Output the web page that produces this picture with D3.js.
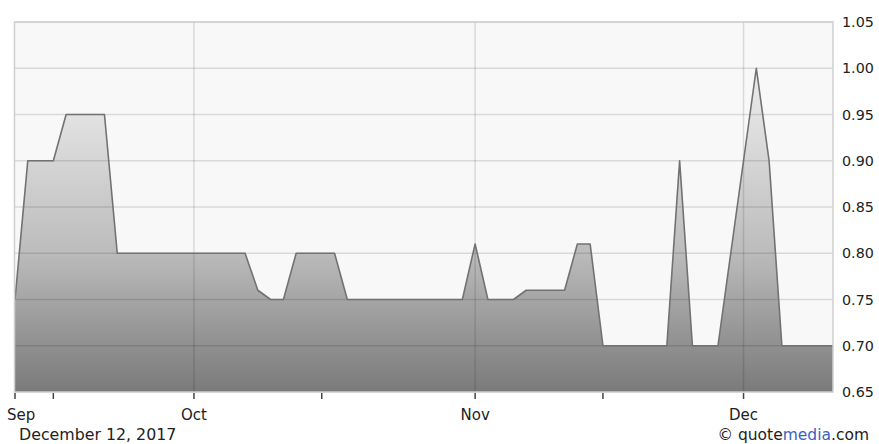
<!DOCTYPE html>
<html>
<head>
<meta charset="utf-8">
<script src="https://cdn.jsdelivr.net/npm/d3@7"></script>
<style>
html,body{margin:0;padding:0;background:#fff;}
svg{display:block;}
text{font-family:"DejaVu Sans",Verdana,sans-serif;}
</style>
</head>
<body>
<svg id="chart" width="879" height="444"></svg>
<script>
// Trading days (Sep 12 – Dec 12, 2017)
const dates = [
 "2017-09-12","2017-09-13","2017-09-14","2017-09-15","2017-09-18","2017-09-19","2017-09-20","2017-09-21","2017-09-22","2017-09-25","2017-09-26","2017-09-27","2017-09-28","2017-09-29",
 "2017-10-02","2017-10-03","2017-10-04","2017-10-05","2017-10-06","2017-10-09","2017-10-10","2017-10-11","2017-10-12","2017-10-13","2017-10-16","2017-10-17","2017-10-18","2017-10-19","2017-10-20","2017-10-23","2017-10-24","2017-10-25","2017-10-26","2017-10-27","2017-10-30","2017-10-31",
 "2017-11-01","2017-11-02","2017-11-03","2017-11-06","2017-11-07","2017-11-08","2017-11-09","2017-11-10","2017-11-13","2017-11-14","2017-11-15","2017-11-16","2017-11-17","2017-11-20","2017-11-21","2017-11-22","2017-11-24","2017-11-27","2017-11-28","2017-11-29","2017-11-30",
 "2017-12-01","2017-12-04","2017-12-05","2017-12-06","2017-12-07","2017-12-08","2017-12-11","2017-12-12"
];
const prices = [
 0.75,0.90,0.90,0.90,0.95,0.95,0.95,0.95,0.80,0.80,0.80,0.80,0.80,0.80,
 0.80,0.80,0.80,0.80,0.80,0.76,0.75,0.75,0.80,0.80,0.80,0.80,0.75,0.75,0.75,0.75,0.75,0.75,0.75,0.75,0.75,0.75,
 0.81,0.75,0.75,0.75,0.76,0.76,0.76,0.76,0.81,0.81,0.70,0.70,0.70,0.70,0.70,0.70,0.90,0.70,0.70,0.70,0.80,
 0.90,1.00,0.90,0.70,0.70,0.70,0.70,0.70
];
const yTicks = [0.65,0.70,0.75,0.80,0.85,0.90,0.95,1.00,1.05];
const monthLabels = ["Sep","Oct","Nov","Dec"];
const monthDates = ["2017-09-12","2017-10-02","2017-11-01","2017-12-01"];
const minorDates = ["2017-09-15","2017-10-16","2017-11-15"];
const dateLabel = "December 12, 2017";

const svg = d3.select("#chart");
const L = 15, R = 833, T = 22, B = 392;
const x = d3.scaleLinear().domain([0, dates.length - 1]).range([L, R]);
const y = d3.scaleLinear().domain([0.65, 1.05]).range([B, T]);
const idx = d => dates.indexOf(d);

// gradient
const defs = svg.append("defs");
const g = defs.append("linearGradient").attr("id","fillGrad")
  .attr("gradientUnits","userSpaceOnUse").attr("x1",0).attr("x2",0).attr("y1",T).attr("y2",B);
[[0,"#f2f2f2"],[0.25,"#e2e2e2"],[0.62,"#bcbcbc"],[1,"#7a7a7a"]].forEach(s =>
  g.append("stop").attr("offset", s[0]).attr("stop-color", s[1]));

// plot background
svg.append("rect").attr("x",L).attr("y",T).attr("width",R-L).attr("height",B-T).attr("fill","#f8f8f8");

// area
const data = prices.map((v,i) => ({i, v}));
svg.append("path").datum(data)
  .attr("d", d3.area().x(d => x(d.i)).y0(B).y1(d => y(d.v)))
  .attr("fill","url(#fillGrad)");

// grid on top (semi-transparent)
svg.append("g").selectAll("line").data(yTicks).join("line")
  .attr("x1",L).attr("x2",R).attr("y1",d=>y(d)).attr("y2",d=>y(d))
  .attr("stroke","rgba(0,0,0,0.12)").attr("stroke-width",1.5);
svg.append("g").selectAll("line").data(monthDates.slice(1)).join("line")
  .attr("x1",d=>x(idx(d))).attr("x2",d=>x(idx(d))).attr("y1",T).attr("y2",B)
  .attr("stroke","rgba(0,0,0,0.12)").attr("stroke-width",1.5);

// line
svg.append("path").datum(data)
  .attr("d", d3.line().x(d => x(d.i)).y(d => y(d.v)))
  .attr("fill","none").attr("stroke","#727272").attr("stroke-width",1.6)
  .attr("stroke-linejoin","round");

// border
svg.append("rect").attr("x",L-0.5).attr("y",T).attr("width",R-L+0.5).attr("height",B-T)
  .attr("fill","none").attr("stroke","#d0d0d0").attr("stroke-width",1.5);

// right axis labels
svg.append("g").selectAll("text").data(yTicks).join("text")
  .attr("x",842).attr("y",d=>y(d)).attr("dy","0.36em")
  .attr("font-size",14.3).attr("fill","#222")
  .text(d=>d.toFixed(2));

// x ticks
const tickIdx = monthDates.concat(minorDates).map(idx);
svg.append("g").selectAll("line").data(tickIdx).join("line")
  .attr("x1",d=>x(d)).attr("x2",d=>x(d)).attr("y1",B+1).attr("y2",B+7)
  .attr("stroke","#444").attr("stroke-width",1.5);

// month labels
svg.append("g").selectAll("text").data(monthLabels).join("text")
  .attr("x",(d,i)=> i===0 ? 7 : x(idx(monthDates[i])))
  .attr("y",420)
  .attr("text-anchor",(d,i)=> i===0 ? "start" : "middle")
  .attr("font-size",15).attr("fill","#222")
  .text(d=>d);

svg.append("text").attr("x",19).attr("y",440).attr("font-size",15.8).attr("fill","#222").text(dateLabel);

const cr = svg.append("text").attr("x",869).attr("y",440).attr("text-anchor","end").attr("font-size",15.5).attr("fill","#222");
cr.append("tspan").text("© quote");
cr.append("tspan").attr("fill","#3a62c0").text("media");
cr.append("tspan").text(".com");
</script>
</body>
</html>
